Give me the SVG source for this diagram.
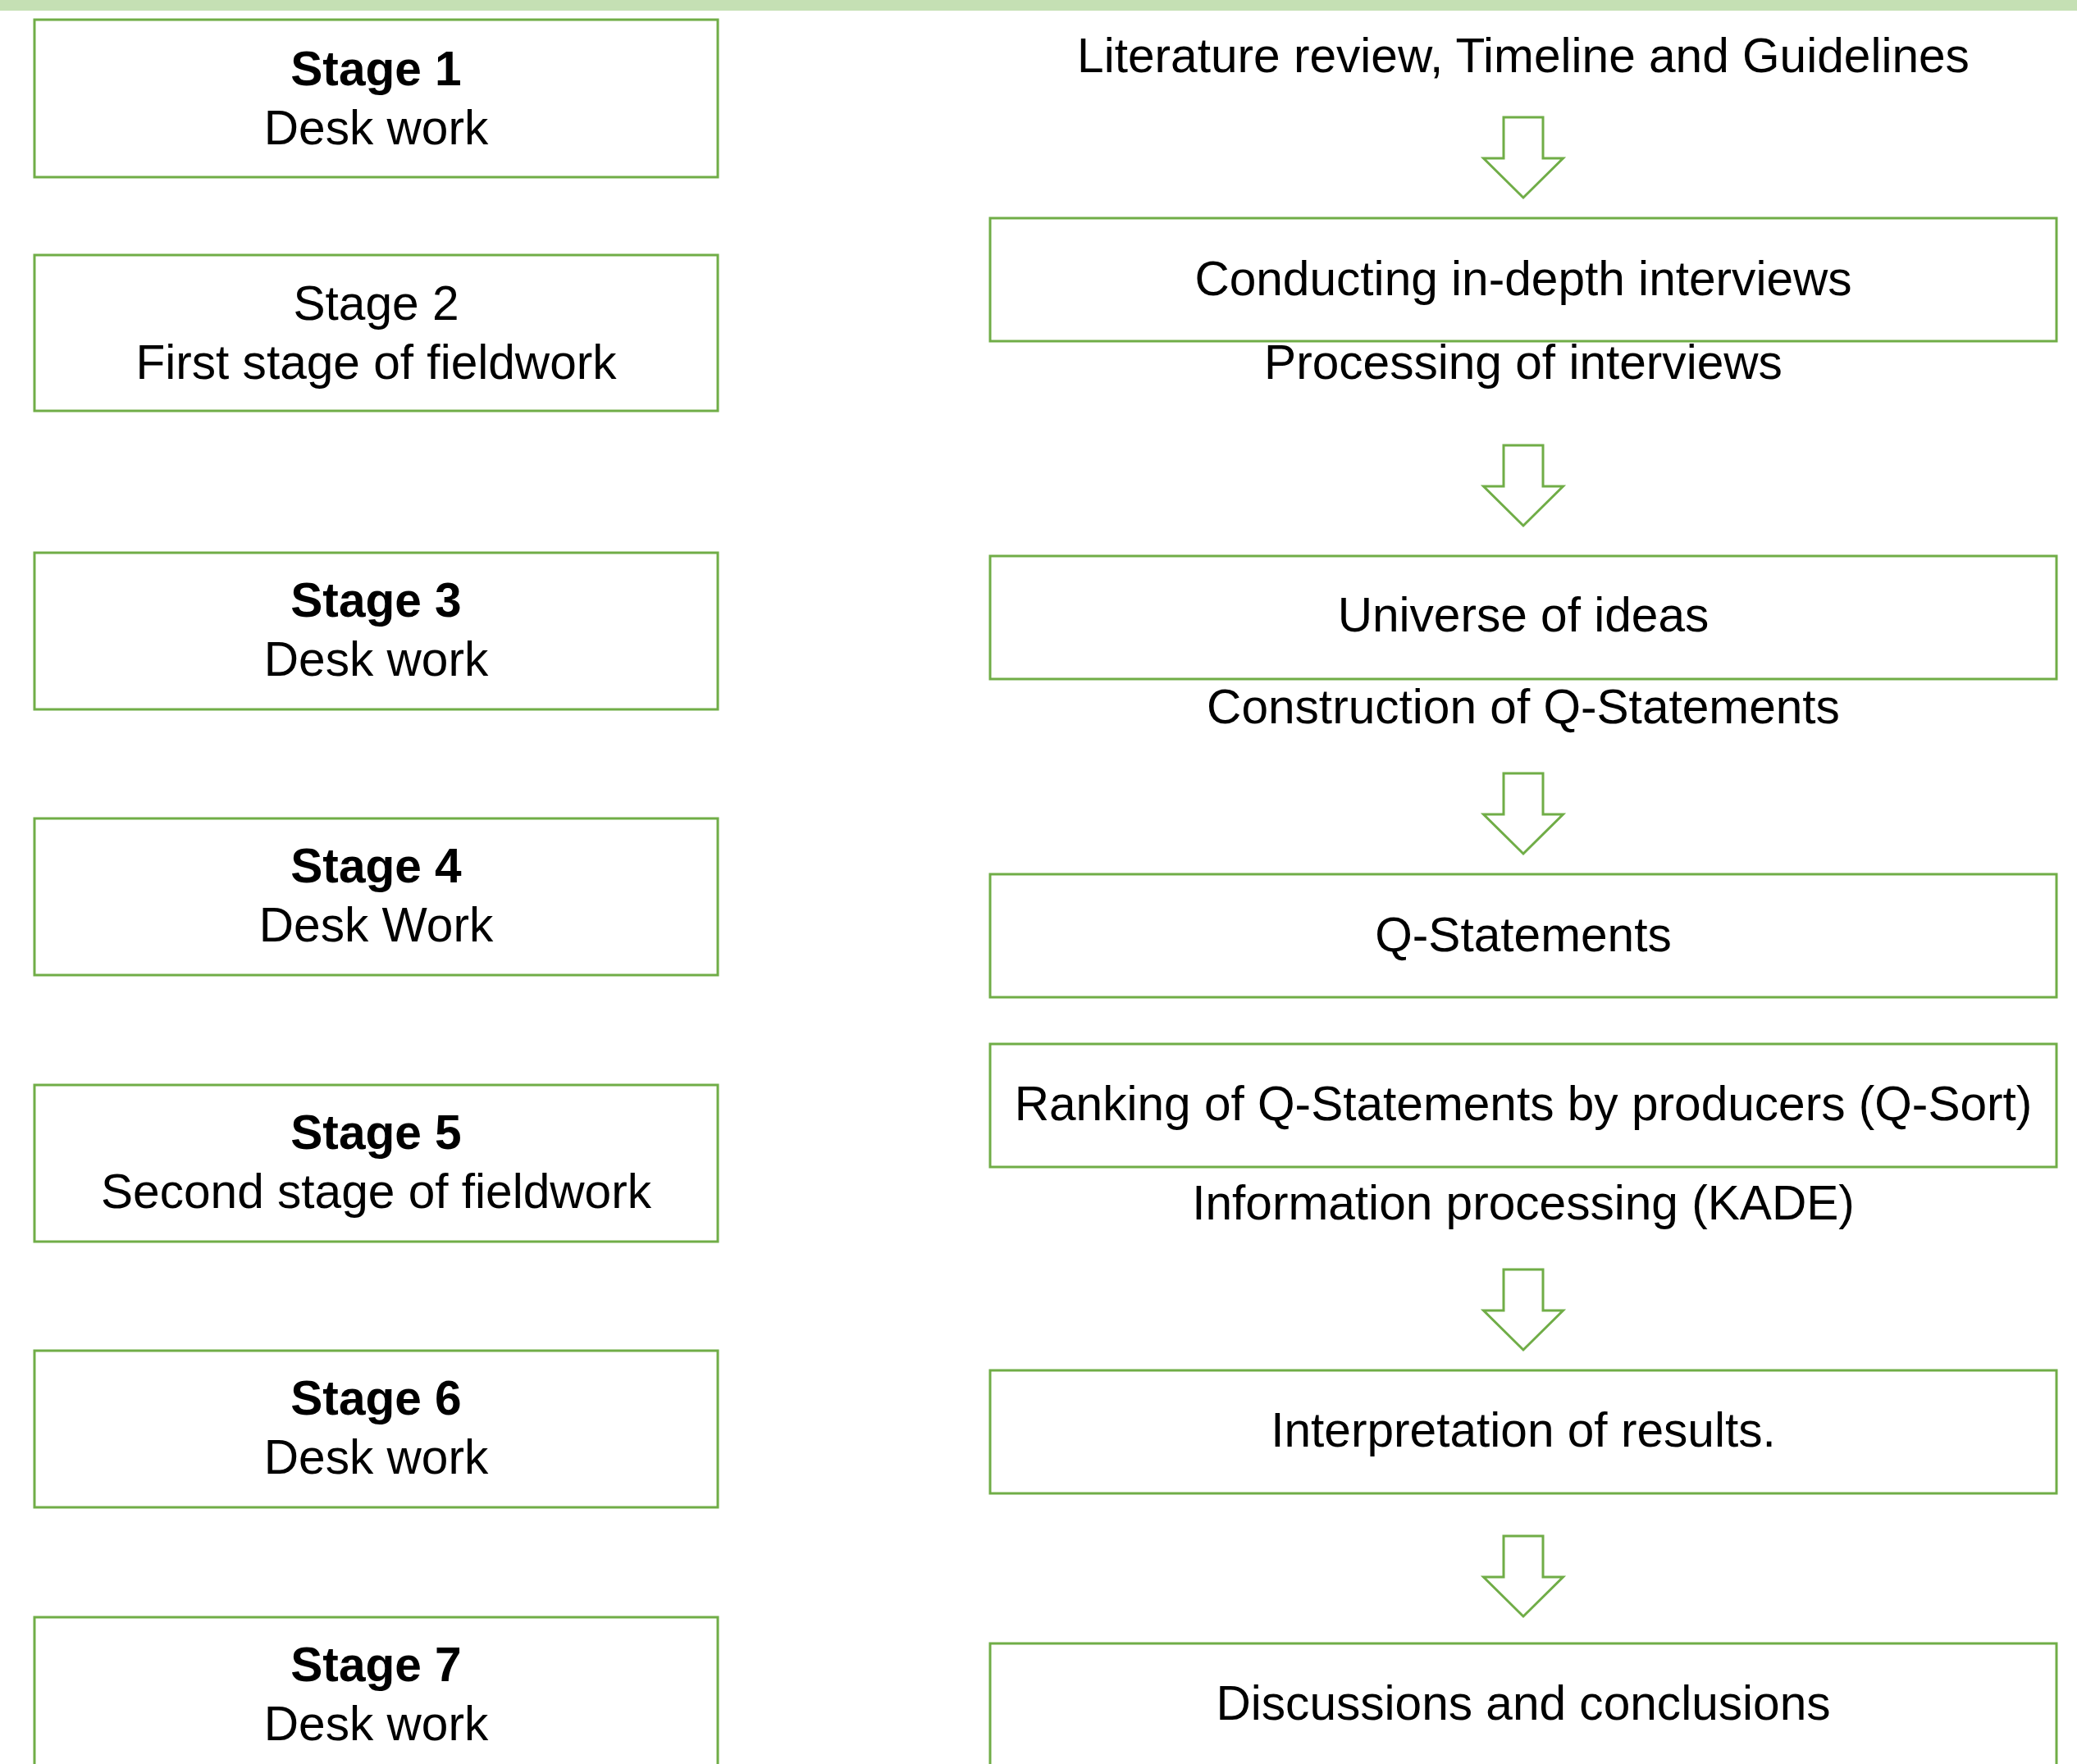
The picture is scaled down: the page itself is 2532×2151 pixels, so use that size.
<svg xmlns="http://www.w3.org/2000/svg" width="2532" height="2151" viewBox="0 0 2532 2151">
<style>
.box{fill:#ffffff;stroke:#70AD47;stroke-width:3}
.arr{fill:#ffffff;stroke:#70AD47;stroke-width:3;stroke-linejoin:miter}
text{font-family:"Liberation Sans",Arial,Helvetica,sans-serif;font-size:58.6px;fill:#000000;text-anchor:middle}
.b{font-weight:bold}
</style>
<defs>
<path id="downArrow" d="M-24,0 H24 V50 H48.5 L0,98 L-48.5,50 H-24 Z"/>
</defs>
<rect x="0" y="0" width="2532" height="2151" fill="#ffffff"/>
<rect x="0" y="0" width="2532" height="13" fill="#C5E0B4"/>

<g id="stage1"><rect class="box" x="42" y="24" width="833" height="192"/><text class="b" x="458.5" y="104">Stage 1</text><text x="458.5" y="176">Desk work</text></g>
<g id="stage2"><rect class="box" x="42" y="311" width="833" height="190"/><text x="458.5" y="390">Stage 2</text><text x="458.5" y="462">First stage of fieldwork</text></g>
<g id="stage3"><rect class="box" x="42" y="674" width="833" height="191"/><text class="b" x="458.5" y="752">Stage 3</text><text x="458.5" y="824">Desk work</text></g>
<g id="stage4"><rect class="box" x="42" y="998" width="833" height="191"/><text class="b" x="458.5" y="1076">Stage 4</text><text x="458.5" y="1148">Desk Work</text></g>
<g id="stage5"><rect class="box" x="42" y="1323" width="833" height="191"/><text class="b" x="458.5" y="1401">Stage 5</text><text x="458.5" y="1473">Second stage of fieldwork</text></g>
<g id="stage6"><rect class="box" x="42" y="1647" width="833" height="191"/><text class="b" x="458.5" y="1725">Stage 6</text><text x="458.5" y="1797">Desk work</text></g>
<g id="stage7"><rect class="box" x="42" y="1972" width="833" height="191"/><text class="b" x="458.5" y="2050">Stage 7</text><text x="458.5" y="2122">Desk work</text></g>

<g id="literature"><text x="1857" y="88">Literature review, Timeline and Guidelines</text></g>
<g id="conducting"><rect class="box" x="1207" y="266" width="1300" height="150"/><text x="1857" y="360">Conducting in-depth interviews</text></g>
<g id="processing"><text x="1857" y="462">Processing of interviews</text></g>
<g id="universe"><rect class="box" x="1207" y="678" width="1300" height="150"/><text x="1857" y="770">Universe of ideas</text></g>
<g id="construction"><text x="1857" y="882">Construction of Q-Statements</text></g>
<g id="qstatements"><rect class="box" x="1207" y="1066" width="1300" height="150"/><text x="1857" y="1160">Q-Statements</text></g>
<g id="ranking"><rect class="box" x="1207" y="1273" width="1300" height="150"/><text x="1857" y="1366">Ranking of Q-Statements by producers (Q-Sort)</text></g>
<g id="information"><text x="1857" y="1487">Information processing (KADE)</text></g>
<g id="interpretation"><rect class="box" x="1207" y="1671" width="1300" height="150"/><text x="1857" y="1764">Interpretation of results.</text></g>
<g id="discussions"><rect class="box" x="1207" y="2004" width="1300" height="160"/><text x="1857" y="2097">Discussions and conclusions</text></g>

<g id="connectors">
<use href="#downArrow" class="arr" x="1857" y="143"/>
<use href="#downArrow" class="arr" x="1857" y="543"/>
<use href="#downArrow" class="arr" x="1857" y="943"/>
<use href="#downArrow" class="arr" x="1857" y="1548"/>
<use href="#downArrow" class="arr" x="1857" y="1873"/>
</g>
</svg>
